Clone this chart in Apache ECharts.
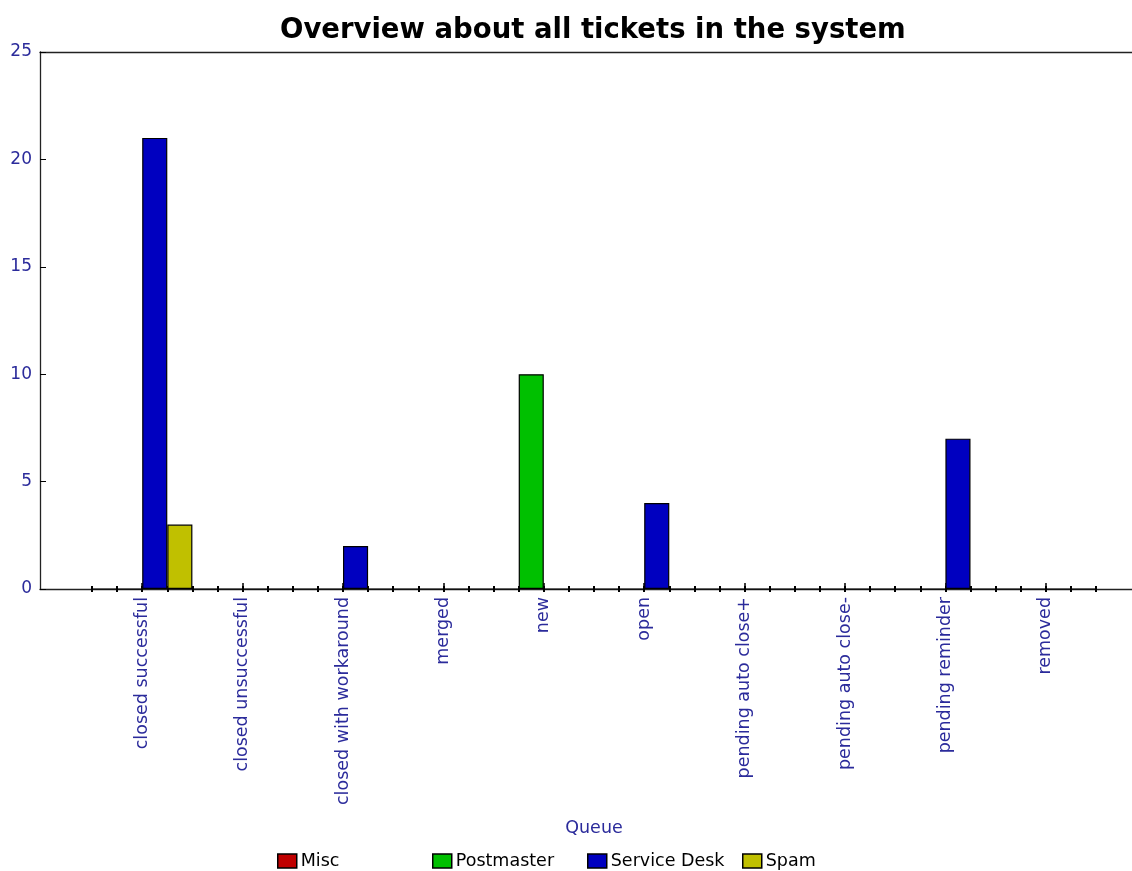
<!DOCTYPE html>
<html>
<head>
<meta charset="utf-8">
<script src="https://cdn.jsdelivr.net/npm/echarts@6/dist/echarts.min.js"></script>
<style>
  html, body { margin: 0; padding: 0; background: #fff; }
  #main { width: 1132px; height: 871px; }
</style>
</head>
<body>
<div id="main"></div>
<script>
// queue states on the x axis
var states = ['closed successful', 'closed unsuccessful', 'closed with workaround', 'merged', 'new',
              'open', 'pending auto close+', 'pending auto close-', 'pending reminder', 'removed'];
var queues = ['Misc', 'Postmaster', 'Service Desk', 'Spam'];

// ticket counts per queue, one value per state
var misc        = [0, 0, 0, 0, 0, 0, 0, 0, 0, 0];
var postmaster  = [0, 0, 0, 0, 10, 0, 0, 0, 0, 0];
var serviceDesk = [21, 0, 2, 0, 0, 4, 0, 0, 7, 0];
var spam        = [3, 0, 0, 0, 0, 0, 0, 0, 0, 0];

var yTicks = [0, 5, 10, 15, 20, 25];

var myChart = echarts.init(document.getElementById('main'));

var labelBlue = '#2b2b9b';
var font = 'DejaVu Sans';
var values = [misc, postmaster, serviceDesk, spam];
var colors = ['#c00000', '#00c000', '#0000c0', '#c0c000'];

var series = [];
var legends = [];
for (var i = 0; i < queues.length; i++) {
    series.push({
        name: queues[i],
        type: 'bar',
        xAxisIndex: 2,
        yAxisIndex: 1,
        barGap: 0,
        barCategoryGap: 0,
        itemStyle: { color: colors[i], borderColor: '#000', borderWidth: 1.2 },
        data: values[i]
    });
    // one legend per entry so the columns keep an even width
    legends.push({
        data: [queues[i]],
        left: 272 + 155 * i,
        top: 847,
        itemWidth: 19,
        itemHeight: 14,
        itemGap: 0,
        icon: 'rect',
        itemStyle: { borderColor: '#000', borderWidth: 1.5 },
        textStyle: { fontFamily: font, fontSize: 17.5, color: '#000', padding: [0, 0, 0, -1] }
    });
}

// dot marks on the x axis, one per bar slot (inside and outside halves)
function dotAxis(inside) {
    return {
        gridIndex: 1, type: 'value', min: 0, max: 40, interval: 1, position: 'bottom',
        axisLine: { show: false },
        axisTick: { show: true, inside: inside, length: 3, lineStyle: { color: '#000', width: 2 } },
        axisLabel: { show: false }, splitLine: { show: false }
    };
}

var option = {
    animation: false,
    backgroundColor: '#fff',
    title: {
        text: 'Overview about all tickets in the system',
        left: 275,
        top: 12,
        textStyle: { fontFamily: font, fontWeight: 'bold', fontSize: 27.5, color: '#000' }
    },
    legend: legends,
    grid: [
        // frame: y axis, bottom line, top line
        { left: 40, right: 0, top: 52, bottom: 282 },
        // bars
        { left: 92, right: 36, top: 52, bottom: 282 }
    ],
    xAxis: [
        {
            gridIndex: 0, type: 'value', min: 0, max: 1, position: 'bottom',
            axisLine: { show: true, lineStyle: { color: '#222', width: 1.3 } },
            axisTick: { show: false }, axisLabel: { show: false }, splitLine: { show: false }
        },
        {
            gridIndex: 0, type: 'value', min: 0, max: 1, position: 'top',
            axisLine: { show: true, lineStyle: { color: '#222', width: 1.3 } },
            axisTick: { show: false }, axisLabel: { show: false }, splitLine: { show: false }
        },
        {
            gridIndex: 1, type: 'category', data: states, position: 'bottom',
            boundaryGap: true,
            axisLine: { show: false },
            axisTick: { show: true, alignWithLabel: true, inside: true, length: 6, lineStyle: { color: '#000', width: 1.5 } },
            axisLabel: { rotate: 90, margin: 8, interval: 0, fontFamily: font, fontSize: 17.5, color: labelBlue },
            name: 'Queue',
            nameLocation: 'middle',
            nameGap: 230,
            nameTextStyle: { fontFamily: font, fontSize: 17.5, color: labelBlue }
        },
        dotAxis(true),
        dotAxis(false)
    ],
    yAxis: [
        {
            gridIndex: 0, type: 'value', min: yTicks[0], max: yTicks[yTicks.length - 1], interval: 5,
            axisLine: { show: true, lineStyle: { color: '#222', width: 1.3 } },
            axisTick: { show: true, inside: true, length: 6, lineStyle: { color: '#000' } },
            axisLabel: { margin: 8, fontFamily: font, fontSize: 17, color: labelBlue },
            splitLine: { show: false }
        },
        {
            gridIndex: 1, type: 'value', min: yTicks[0], max: yTicks[yTicks.length - 1], interval: 5,
            show: false, splitLine: { show: false }
        }
    ],
    series: series
};

myChart.setOption(option);
</script>
</body>
</html>
